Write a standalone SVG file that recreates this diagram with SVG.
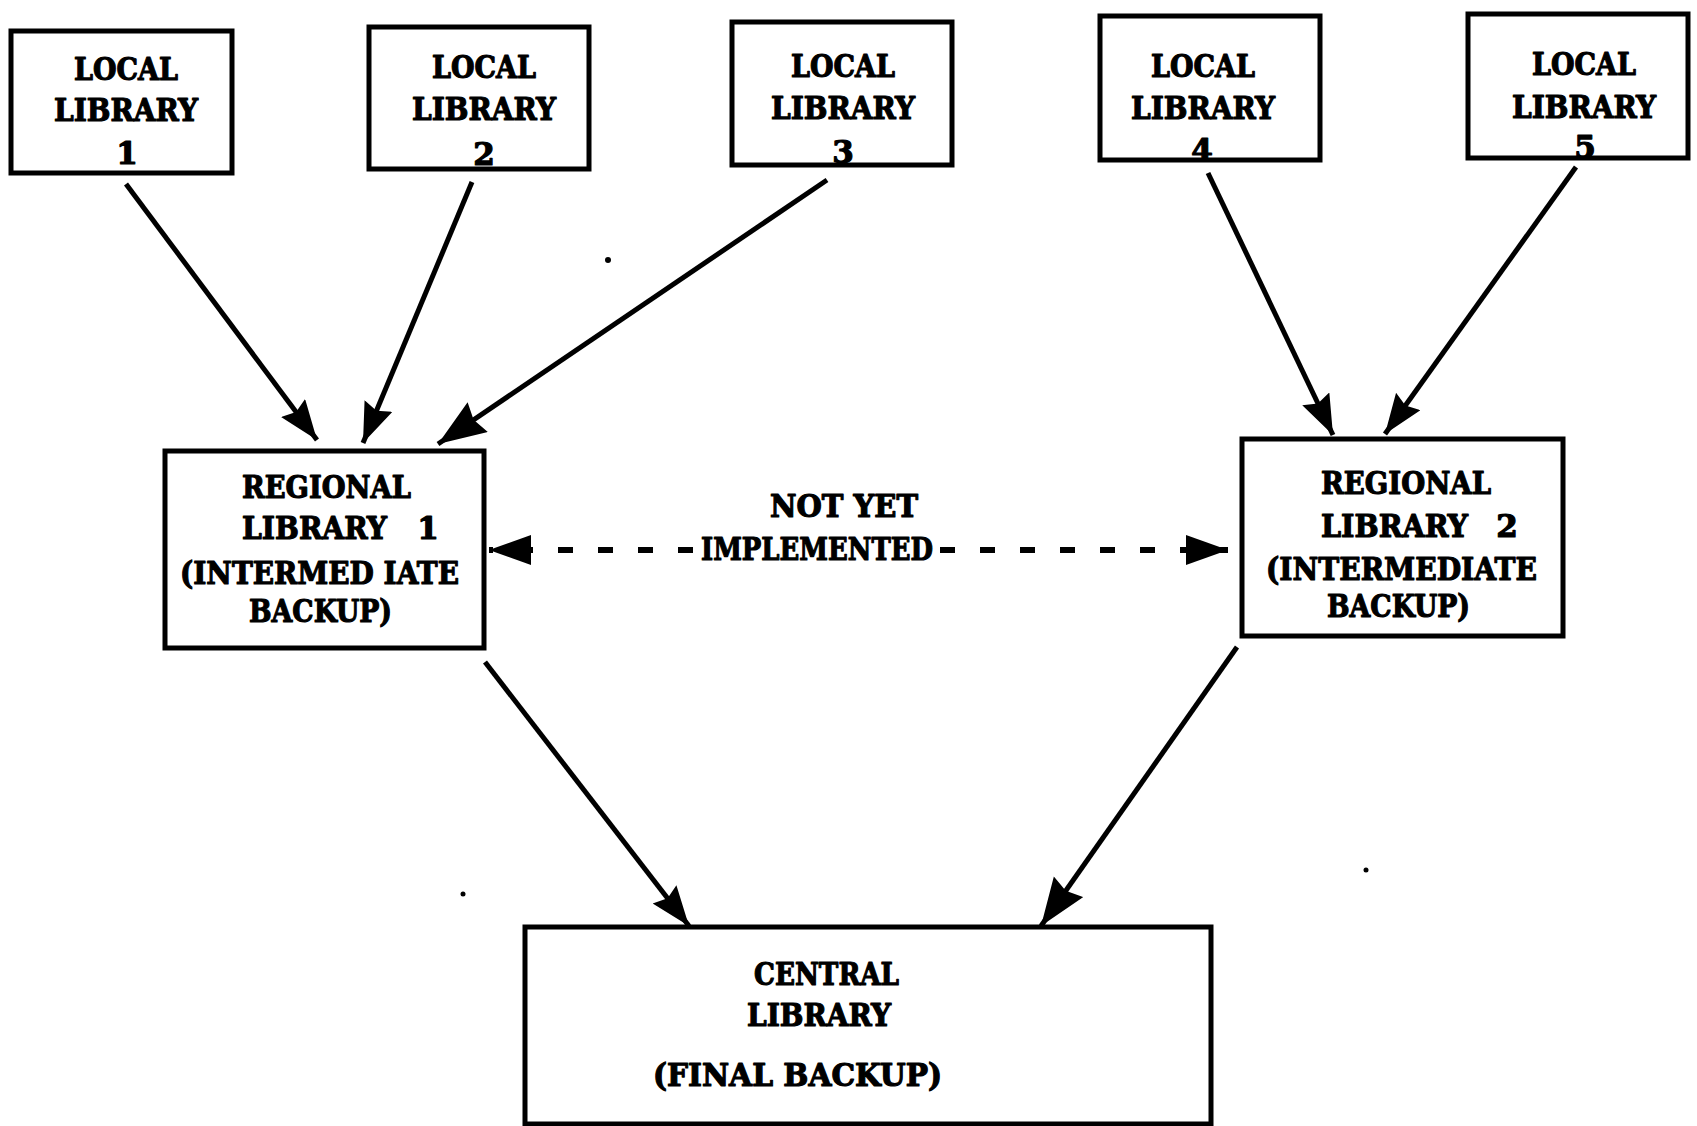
<svg xmlns="http://www.w3.org/2000/svg" width="1697" height="1126" viewBox="0 0 1697 1126">
<style>
.box{fill:#fff;stroke:#000;stroke-width:5}
.t{font-family:"DejaVu Serif","Liberation Serif",serif;font-weight:bold;font-size:31px;fill:#000;stroke:#000;stroke-width:1.2;stroke-linejoin:round}
.m{text-anchor:middle}
.edge{stroke:#000;stroke-width:5;fill:none;marker-end:url(#ah)}
.big{marker-end:url(#ahb)}
.dash{stroke:#000;stroke-width:6;fill:none;stroke-dasharray:15 25;marker-end:url(#ah2)}
</style>
<defs>
<marker id="ah" markerUnits="userSpaceOnUse" markerWidth="46" markerHeight="36" refX="40" refY="15" orient="auto">
<path d="M0,0 L40,15 L0,30 L5,15 z" fill="#000"/>
</marker>
<marker id="ahb" markerUnits="userSpaceOnUse" markerWidth="54" markerHeight="42" refX="48" refY="18" orient="auto">
<path d="M0,0 L48,18 L0,36 L5,18 z" fill="#000"/>
</marker>
<marker id="ah2" markerUnits="userSpaceOnUse" markerWidth="48" markerHeight="36" refX="42" refY="15" orient="auto">
<path d="M0,0 L42,15 L0,30 z" fill="#000"/>
</marker>
</defs>
<rect width="1697" height="1126" fill="#fff"/>
<g id="ll1">
<rect class="box" x="11" y="31" width="221" height="142"/>
<text class="t m" x="126" y="80" textLength="104" lengthAdjust="spacingAndGlyphs">LOCAL</text>
<text class="t m" x="126" y="121" textLength="144" lengthAdjust="spacingAndGlyphs">LIBRARY</text>
<text class="t m" x="127" y="164">1</text>
</g>
<g id="ll2">
<rect class="box" x="369" y="27" width="220" height="142"/>
<text class="t m" x="484" y="78" textLength="104" lengthAdjust="spacingAndGlyphs">LOCAL</text>
<text class="t m" x="484" y="120" textLength="144" lengthAdjust="spacingAndGlyphs">LIBRARY</text>
<text class="t m" x="484" y="165">2</text>
</g>
<g id="ll3">
<rect class="box" x="732" y="22" width="220" height="143"/>
<text class="t m" x="843" y="77" textLength="104" lengthAdjust="spacingAndGlyphs">LOCAL</text>
<text class="t m" x="843" y="119" textLength="144" lengthAdjust="spacingAndGlyphs">LIBRARY</text>
<text class="t m" x="843" y="163">3</text>
</g>
<g id="ll4">
<rect class="box" x="1100" y="16" width="220" height="144"/>
<text class="t m" x="1203" y="77" textLength="104" lengthAdjust="spacingAndGlyphs">LOCAL</text>
<text class="t m" x="1203" y="119" textLength="144" lengthAdjust="spacingAndGlyphs">LIBRARY</text>
<text class="t m" x="1202" y="161">4</text>
</g>
<g id="ll5">
<rect class="box" x="1468" y="14" width="220" height="144"/>
<text class="t m" x="1584" y="75" textLength="104" lengthAdjust="spacingAndGlyphs">LOCAL</text>
<text class="t m" x="1584" y="118" textLength="144" lengthAdjust="spacingAndGlyphs">LIBRARY</text>
<text class="t m" x="1585" y="158">5</text>
</g>
<g id="rl1">
<rect class="box" x="165" y="451" width="319" height="197"/>
<text class="t" x="242" y="498" textLength="169" lengthAdjust="spacingAndGlyphs">REGIONAL</text>
<text class="t" x="242" y="539" textLength="145" lengthAdjust="spacingAndGlyphs">LIBRARY</text>
<text class="t m" x="428" y="539">1</text>
<text class="t" x="180" y="584" textLength="279" lengthAdjust="spacingAndGlyphs">(INTERMED IATE</text>
<text class="t" x="249" y="622" textLength="143" lengthAdjust="spacingAndGlyphs">BACKUP)</text>
</g>
<g id="rl2">
<rect class="box" x="1242" y="439" width="321" height="197"/>
<text class="t" x="1321" y="494" textLength="170" lengthAdjust="spacingAndGlyphs">REGIONAL</text>
<text class="t" x="1321" y="537" textLength="147" lengthAdjust="spacingAndGlyphs">LIBRARY</text>
<text class="t m" x="1507" y="537">2</text>
<text class="t" x="1266" y="580" textLength="271" lengthAdjust="spacingAndGlyphs">(INTERMEDIATE</text>
<text class="t" x="1327" y="617" textLength="143" lengthAdjust="spacingAndGlyphs">BACKUP)</text>
</g>
<g id="central">
<rect class="box" x="525" y="927" width="686" height="197"/>
<text class="t" x="754" y="985" textLength="145" lengthAdjust="spacingAndGlyphs">CENTRAL</text>
<text class="t" x="747" y="1026" textLength="144" lengthAdjust="spacingAndGlyphs">LIBRARY</text>
<text class="t" x="653" y="1086" textLength="289" lengthAdjust="spacingAndGlyphs">(FINAL BACKUP)</text>
</g>
<g id="connectors">
<line class="edge" x1="126" y1="184" x2="317" y2="440"/>
<line class="edge" x1="472" y1="182" x2="363" y2="443"/>
<line class="edge big" x1="827" y1="180" x2="438" y2="444"/>
<line class="edge" x1="1208" y1="173" x2="1333" y2="435"/>
<line class="edge" x1="1576" y1="167" x2="1385" y2="434"/>
<line class="edge" x1="485" y1="662" x2="689" y2="926"/>
<line class="edge big" x1="1237" y1="647" x2="1041" y2="926"/>
<path class="dash" d="M693,550 L489,550"/>
<path class="dash" d="M940,550 L1228,550"/>
<text class="t m" x="844" y="517" textLength="148" lengthAdjust="spacingAndGlyphs">NOT YET</text>
<text class="t" x="701" y="560" textLength="232" lengthAdjust="spacingAndGlyphs">IMPLEMENTED</text>
</g>
<g id="specks" fill="#000">
<circle cx="608" cy="260" r="3"/>
<circle cx="463" cy="894" r="2.5"/>
<circle cx="1366" cy="870" r="2.5"/>
</g>
</svg>
